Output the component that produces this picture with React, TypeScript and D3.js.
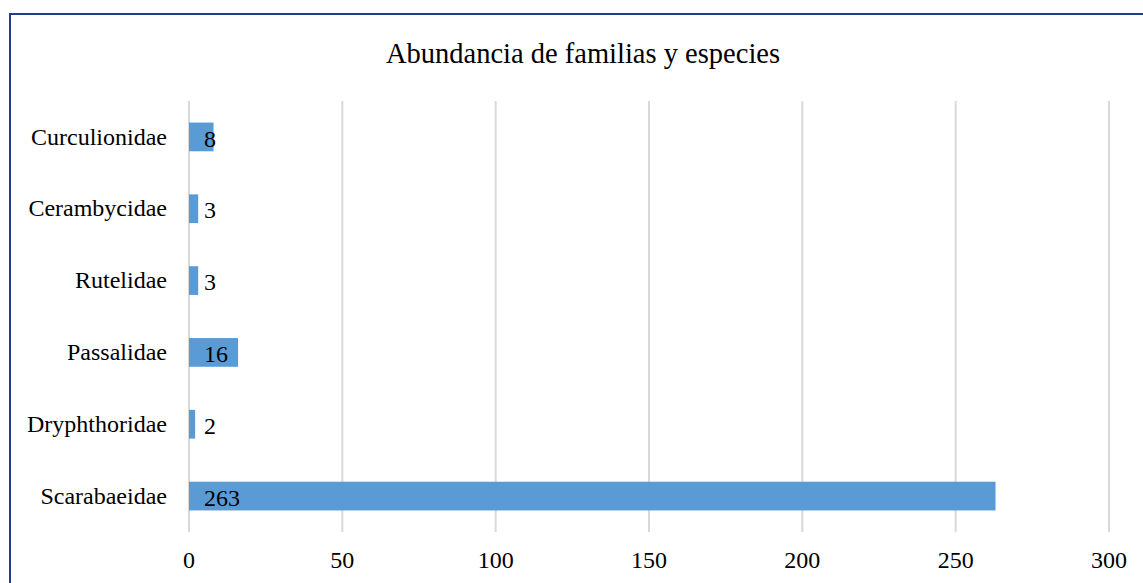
import React from "react";
import * as d3 from "d3";

const categories = ["Curculionidae", "Cerambycidae", "Rutelidae", "Passalidae", "Dryphthoridae", "Scarabaeidae"];
const values = [8, 3, 3, 16, 2, 263];
const xTicks = [0, 50, 100, 150, 200, 250, 300];
const title = "Abundancia de familias y especies";

export default function App() {
  const W = 1143, H = 583;
  const font = "'Liberation Serif', 'Times New Roman', serif";
  const x = d3.scaleLinear().domain([0, 300]).range([189, 1109]);
  const y = d3.scaleBand().domain(categories).range([101, 532]).paddingInner(0.6).paddingOuter(0.3);
  return (
    <svg width={W} height={H} style={{ position: "fixed", left: 0, top: 0 }}>
      <rect x={0} y={0} width={W} height={H} fill="#fff" />
      <rect x={10} y={14} width={W} height={H} fill="#fff" stroke="#1F3D8C" strokeWidth={2} />
      <text x={583} y={63} textAnchor="middle" fontFamily={font} fontSize={28.5} fill="#000">{title}</text>
      {xTicks.map((t) => (
        <g key={t}>
          <line x1={x(t)} x2={x(t)} y1={101} y2={532} stroke="#D9D9D9" strokeWidth={2} />
          <text x={x(t)} y={568} textAnchor="middle" fontFamily={font} fontSize={24} fill="#000">{t}</text>
        </g>
      ))}
      {categories.map((c, i) => {
        const yy = y(c)!;
        const bw = y.bandwidth();
        return (
          <g key={c}>
            <rect x={x(0)} y={yy} width={x(values[i]) - x(0)} height={bw} fill="#5B9BD5" />
            <text x={167} y={yy + bw / 2} dy="0.32em" textAnchor="end" fontFamily={font} fontSize={24} fill="#000">{c}</text>
            <text x={204} y={yy + bw / 2} dy="0.4em" textAnchor="start" fontFamily={font} fontSize={24} fill="#000">{values[i]}</text>
          </g>
        );
      })}
    </svg>
  );
}
